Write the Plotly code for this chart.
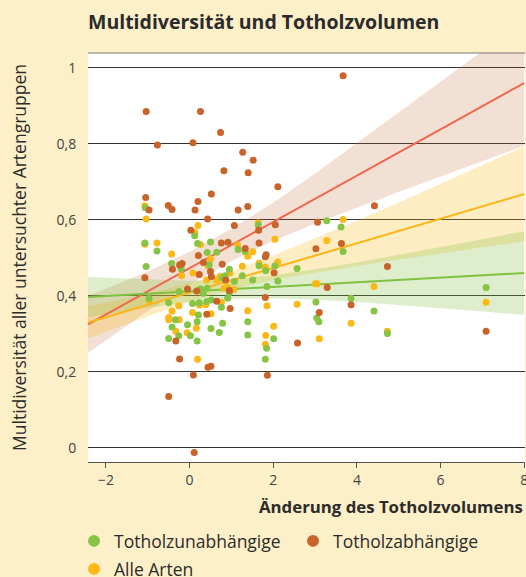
import plotly.graph_objects as go

# ---------------- data ----------------
# Totholzabhängige (dead-wood dependent)
dep_x = [-1.04, 0.26, -0.77, 0.08, 0.74, 1.27, 1.52, 0.82, 1.40, 2.11, 0.52, -1.05, 0.20, -0.51,
         -0.42, -0.97, 0.13, 1.16, 1.39, 0.43, 1.07, 0.03, 2.05, 1.65, 1.66, 0.76, 0.92, 3.67,
         4.42, 3.06, 3.63, 3.02, 4.73, 3.29, 3.86, 3.10, 7.09, 2.58, 1.33, 1.81, 1.83, -1.07,
         -0.41, -0.24, -0.18, 0.21, 0.78, 0.33, 0.23, 0.50, 0.52, 0.86, 2.02, 1.81, -0.05, 0.17,
         0.65, 0.97, -0.33, 0.41, -0.24, 0.44, 0.51, 0.09, 1.86, -0.50, 0.11, 0.95]
dep_y = [0.885, 0.885, 0.797, 0.803, 0.830, 0.778, 0.757, 0.729, 0.724, 0.687, 0.668, 0.659, 0.648, 0.638,
         0.627, 0.626, 0.626, 0.626, 0.635, 0.602, 0.585, 0.573, 0.587, 0.573, 0.539, 0.539, 0.541, 0.979,
         0.637, 0.594, 0.538, 0.524, 0.477, 0.422, 0.377, 0.356, 0.307, 0.276, 0.525, 0.503, 0.508, 0.448,
         0.470, 0.481, 0.485, 0.506, 0.483, 0.488, 0.456, 0.464, 0.451, 0.442, 0.461, 0.396, 0.418, 0.413,
         0.386, 0.367, 0.281, 0.352, 0.234, 0.212, 0.215, 0.192, 0.191, 0.135, -0.012, 0.414]

# Totholzunabhängige (dead-wood independent)
ind_x = [-1.06, 0.12, 1.64, -1.07, 0.19, 0.50, 3.28, 3.62, 3.67, 2.57, 7.09, 3.86, 3.02, 3.04,
         3.09, 4.41, 4.73, -0.78, 1.16, 1.33, -1.04, -0.43, -0.20, 0.42, 0.65, 0.47, 0.79, 0.85,
         0.95, 1.07, 1.26, 1.51, 1.66, 1.82, 2.04, 2.11, 1.85, 0.26, 0.33, -0.25, -0.97, -0.50,
         0.07, 0.23, 0.41, 0.52, 0.91, 0.76, -0.34, -0.42, -0.26, -0.50, -0.05, 0.02, 0.18, 0.18,
         0.51, 0.71, 0.79, 1.39, 1.39, 2.01, 1.84, 1.81, 0.42, 0.21, 0.95]
ind_y = [0.632, 0.558, 0.587, 0.539, 0.538, 0.542, 0.598, 0.581, 0.517, 0.472, 0.422, 0.394, 0.384, 0.342,
         0.332, 0.360, 0.301, 0.518, 0.522, 0.517, 0.477, 0.485, 0.471, 0.514, 0.515, 0.482, 0.447, 0.453,
         0.470, 0.438, 0.453, 0.442, 0.479, 0.466, 0.479, 0.439, 0.425, 0.418, 0.407, 0.411, 0.393, 0.382,
         0.380, 0.382, 0.385, 0.389, 0.394, 0.370, 0.337, 0.318, 0.295, 0.288, 0.324, 0.295, 0.281, 0.332,
         0.314, 0.304, 0.328, 0.332, 0.297, 0.287, 0.262, 0.233, 0.420, 0.350, 0.408]

# Alle Arten (all species)
all_x = [-1.07, -1.04, 0.20, 0.13, 1.64, 2.04, -1.07, -0.78, 0.26, 1.15, 3.67, 3.28, 3.01, 3.05,
         4.41, 2.57, 7.09, 3.86, 4.73, 3.10, 1.51, 1.39, -0.43, -0.19, 0.50, 0.44, 0.08, 0.41,
         0.65, 0.73, 0.96, 1.26, 1.66, 1.81, 2.11, 1.85, 0.22, -0.97, -0.26, 0.07, 0.23, 0.39,
         0.76, -0.42, -0.50, -0.50, -0.25, -0.33, -0.06, 0.16, 0.51, 1.39, 2.01, 1.82, 1.81, 0.19,
         0.83, 0.91, 1.06]
all_y = [0.637, 0.602, 0.585, 0.567, 0.592, 0.549, 0.536, 0.539, 0.535, 0.534, 0.601, 0.546, 0.432, 0.432,
         0.425, 0.378, 0.383, 0.328, 0.307, 0.287, 0.516, 0.504, 0.510, 0.453, 0.497, 0.479, 0.460, 0.442,
         0.442, 0.451, 0.460, 0.478, 0.486, 0.476, 0.489, 0.374, 0.415, 0.388, 0.374, 0.356, 0.376, 0.377,
         0.383, 0.360, 0.343, 0.337, 0.337, 0.307, 0.303, 0.315, 0.353, 0.361, 0.320, 0.296, 0.273, 0.233,
         0.420, 0.424, 0.417]

# regression lines (end points)
line_x = [-2.43, 8.0]
dep_line = [0.325, 0.960]
all_line = [0.330, 0.668]
ind_line = [0.397, 0.460]

# confidence bands
band_x = [-2.43, -1, 0, 1, 2, 3, 4, 5, 6, 7, 8]
dep_up = [0.400, 0.464, 0.516, 0.577, 0.645, 0.722, 0.802, 0.883, 0.964, 1.045, 1.125]
dep_lo = [0.250, 0.360, 0.430, 0.491, 0.545, 0.590, 0.632, 0.673, 0.714, 0.755, 0.795]
all_up = [0.372, 0.406, 0.433, 0.465, 0.506, 0.551, 0.598, 0.646, 0.695, 0.744, 0.793]
all_lo = [0.288, 0.346, 0.385, 0.417, 0.442, 0.461, 0.478, 0.496, 0.511, 0.528, 0.543]
ind_up = [0.450, 0.443, 0.440, 0.444, 0.454, 0.470, 0.488, 0.508, 0.528, 0.549, 0.570]
ind_lo = [0.344, 0.369, 0.384, 0.392, 0.394, 0.390, 0.384, 0.376, 0.368, 0.359, 0.350]

x_ticks = [-2, 0, 2, 4, 6, 8]
y_ticks = [0, 0.2, 0.4, 0.6, 0.8, 1]

# ---------------- styling ----------------
FONT = "Open Sans"
BG = "#fdefc8"
TXT = "#2b2b2b"
C_IND = "#86c446"
C_DEP = "#c8632a"
C_ALL = "#fcb814"
L_IND = "#7fc241"
L_DEP = "#f0674b"
L_ALL = "#fbb515"

fig = go.Figure()


def band(xs, up, lo, color):
    fig.add_trace(go.Scatter(
        x=list(xs) + list(xs)[::-1], y=list(up) + list(lo)[::-1],
        fill="toself", fillcolor=color, line=dict(width=0), mode="lines",
        hoverinfo="skip", showlegend=False))


band(band_x, dep_up, dep_lo, "rgba(200,108,57,0.21)")
band(band_x, all_up, all_lo, "rgba(252,185,19,0.26)")
band(band_x, ind_up, ind_lo, "rgba(132,194,66,0.27)")

for ly, lc in [(dep_line, L_DEP), (all_line, L_ALL), (ind_line, L_IND)]:
    fig.add_trace(go.Scatter(x=line_x, y=ly, mode="lines", line=dict(color=lc, width=2),
                             hoverinfo="skip", showlegend=False))

fig.add_trace(go.Scatter(x=all_x, y=all_y, mode="markers", name="Alle Arten", legend="legend2",
                         marker=dict(color=C_ALL, size=7, line=dict(width=0))))
fig.add_trace(go.Scatter(x=ind_x, y=ind_y, mode="markers", name="Totholzunabhängige", legendrank=1,
                         marker=dict(color=C_IND, size=7, line=dict(width=0))))
fig.add_trace(go.Scatter(x=dep_x, y=dep_y, mode="markers", name="Totholzabhängige", legendrank=2,
                         marker=dict(color=C_DEP, size=7, line=dict(width=0))))

L, R, T, B = 88, 1, 53, 115
W, H = 526, 577
ph = H - T - B
pw = W - L - R

legend_common = dict(orientation="h", x=-14 / pw, xanchor="left", yanchor="top",
                     font=dict(size=17.5, color=TXT, family=FONT), bgcolor="rgba(0,0,0,0)",
                     itemwidth=30, itemsizing="constant", traceorder="normal")

fig.update_layout(
    width=W, height=H,
    margin=dict(l=L, r=R, t=T, b=B, autoexpand=False),
    paper_bgcolor=BG, plot_bgcolor="white",
    separators=",.",
    font=dict(family=FONT, color=TXT, size=13),
    title=dict(text="<b>Multidiversität und Totholzvolumen</b>", x=0, xref="paper", xanchor="left",
               y=1 - 22 / H, yref="container", yanchor="middle",
               font=dict(family=FONT, size=19.5, color=TXT)),
    xaxis=dict(range=[-2.43, 8.02], tickvals=x_ticks, showgrid=False, zeroline=False,
               showline=True, linecolor="#555", linewidth=1.2, ticks="outside", ticklen=5,
               tickcolor="#555", tickwidth=1.2, tickfont=dict(size=14, color="#444"),
               ticklabeloverflow="allow"),
    yaxis=dict(range=[-0.037, 1.039], tickvals=y_ticks, showgrid=True, gridcolor="#333",
               gridwidth=1.3, zeroline=False, showline=False, ticks="outside", ticklen=8,
               tickcolor="rgba(0,0,0,0)", tickfont=dict(size=14, color="#444"),
               automargin=False,
               title=dict(text="Multidiversität aller untersuchter Artengruppen",
                          font=dict(size=17.5, color=TXT), standoff=25)),
    legend=dict(legend_common, y=-(523 - (H - B)) / ph, entrywidth=174),
    legend2=dict(legend_common, y=-(551 - (H - B)) / ph),
    annotations=[dict(text="<b>Änderung des Totholzvolumens</b>", x=1, xref="paper", xanchor="right",
                      y=-(507 - (H - B)) / ph, yref="paper", yanchor="middle", showarrow=False,
                      font=dict(size=16.8, color=TXT))],
    shapes=[dict(type="line", xref="paper", yref="paper", x0=0, x1=1, y0=1, y1=1,
                 line=dict(color="#777", width=1))],
)

fig.write_html("out.html", config={"displayModeBar": False},
               post_script="document.body.style.margin='0';document.body.style.padding='0';"
                           "document.body.style.background='#fdefc8';"
                           "document.documentElement.style.overflow='hidden';")
